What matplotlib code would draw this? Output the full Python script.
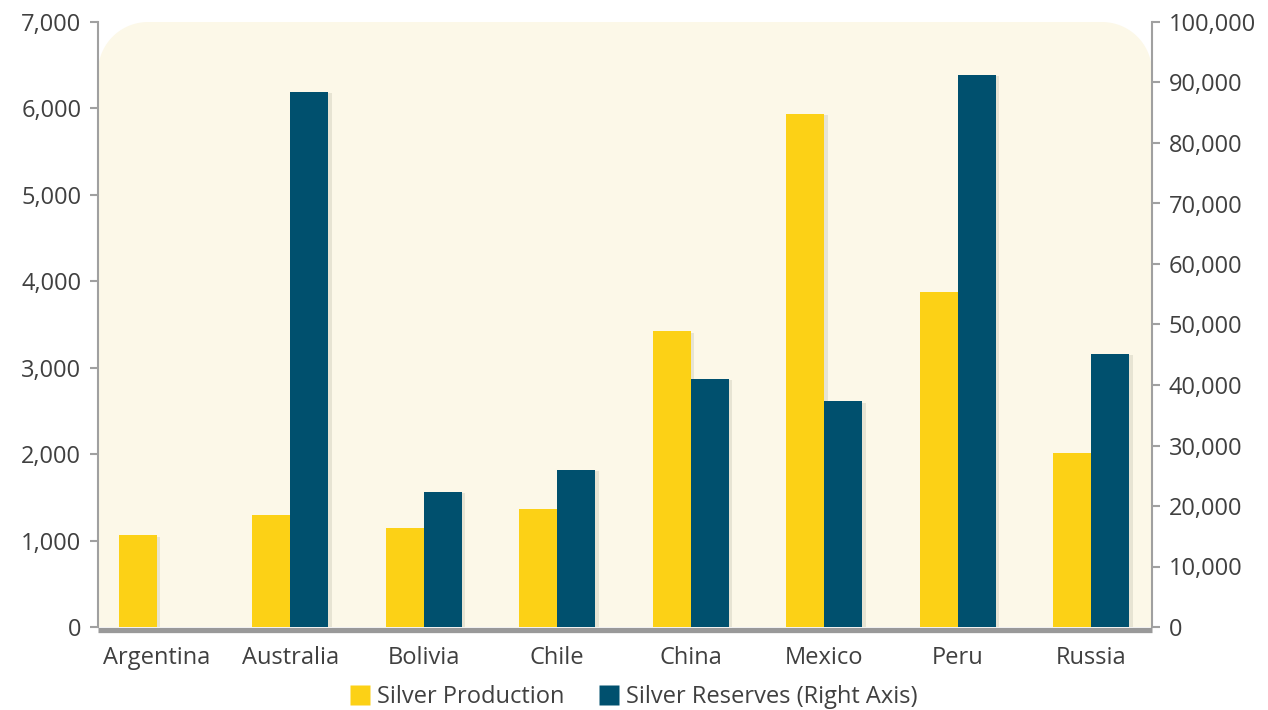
import numpy as np
import matplotlib
matplotlib.use('Agg')
import matplotlib.pyplot as plt
from matplotlib.patches import Polygon
from matplotlib.ticker import FuncFormatter
import matplotlib.patheffects as pe

countries = ['Argentina', 'Australia', 'Bolivia', 'Chile', 'China', 'Mexico', 'Peru', 'Russia']
production = [1060, 1300, 1150, 1360, 3420, 5940, 3880, 2010]
reserves = [0, 88500, 22300, 26000, 41000, 37300, 91300, 45200]

C_PROD = '#FCD116'
C_RES = '#00506E'
C_BG = '#FCF8E8'
C_AXIS = '#A0A0A0'
C_TEXT = '#404040'
FS = 17

plt.rcParams.update({
    'font.family': ['Open Sans', 'DejaVu Sans'],
    'font.size': FS,
    'text.color': C_TEXT,
    'xtick.color': C_AXIS,
    'ytick.color': C_AXIS,
    'xtick.labelcolor': C_TEXT,
    'ytick.labelcolor': C_TEXT,
})

fig = plt.figure(figsize=(12.68, 7.10), dpi=100)
ax = fig.add_axes([98 / 1268, 1 - 627 / 710, 1054 / 1268, 605 / 710])
ax2 = ax.twinx()

# cream panel with rounded top corners (axes coords)
rx, ry = 50 / 1054, 50 / 605
t = np.linspace(0, np.pi / 2, 30)
left_arc = np.column_stack([rx - rx * np.cos(t), 1 - ry + ry * np.sin(t)])
right_arc = np.column_stack([1 - rx + rx * np.sin(t), 1 - ry + ry * np.cos(t)])
pts = np.vstack([[[0, 0]], left_arc, right_arc, [[1, 0]]])
ax.add_patch(Polygon(pts, closed=True, transform=ax.transAxes, facecolor=C_BG,
                     edgecolor='none', zorder=0))
ax.set_facecolor('none')
ax2.set_facecolor('none')

x = np.arange(len(countries))
w = 0.285
shadow = [pe.SimplePatchShadow(offset=(2.5, -1), shadow_rgbFace='#8a8a78', alpha=0.18), pe.Normal()]
ax.bar(x - w / 2, production, width=w, color=C_PROD, zorder=2, path_effects=shadow)
ax2.bar(x + w / 2, reserves, width=w, color=C_RES, zorder=2, path_effects=shadow)

ax.set_xlim(-0.442, 7.457)
ax.set_ylim(0, 7000)
ax2.set_ylim(0, 100000)
ax.set_yticks(np.arange(0, 7001, 1000))
ax2.set_yticks(np.arange(0, 100001, 10000))
fmt = FuncFormatter(lambda v, p: f'{v:,.0f}')
ax.yaxis.set_major_formatter(fmt)
ax2.yaxis.set_major_formatter(fmt)

ax.set_xticks(x)
ax.set_xticklabels(countries)
ax.tick_params(axis='x', length=0, pad=14, labelsize=FS)
ax2.tick_params(axis='x', length=0, labelbottom=False)
ax.tick_params(axis='y', direction='out', length=6, width=1.5, pad=6, labelsize=FS)
ax2.tick_params(axis='y', direction='out', length=6, width=1.5, pad=6, labelsize=FS)

for a in (ax, ax2):
    for s in a.spines.values():
        s.set_visible(False)
ax.spines['left'].set_visible(True)
ax.spines['left'].set_color(C_AXIS)
ax.spines['left'].set_linewidth(1.5)
ax2.spines['right'].set_visible(True)
ax2.spines['right'].set_color(C_AXIS)
ax2.spines['right'].set_linewidth(1.5)
ax2.spines['bottom'].set_visible(True)
ax2.spines['bottom'].set_color('#999999')
ax2.spines['bottom'].set_linewidth(3.8)
ax2.spines['bottom'].set_position(('outward', 1.8))
ax2.spines['bottom'].set_capstyle('butt')

handles = [
    plt.Line2D([0], [0], marker='s', color='w', markerfacecolor=C_PROD, markeredgecolor='none',
               markersize=14, linestyle='None', label='Silver Production'),
    plt.Line2D([0], [0], marker='s', color='w', markerfacecolor=C_RES, markeredgecolor='none',
               markersize=14, linestyle='None', label='Silver Reserves (Right Axis)'),
]
fig.legend(handles=handles, loc='center', bbox_to_anchor=(0.5, 1 - 697 / 710), ncol=2,
           frameon=False, fontsize=FS, handlelength=0.8, handletextpad=0.3,
           columnspacing=1.5, borderaxespad=0)

fig.savefig('out.png', dpi=100, facecolor='white')
